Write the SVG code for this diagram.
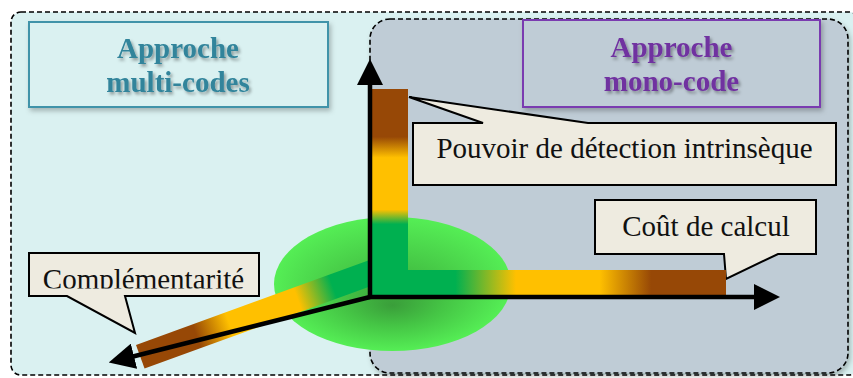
<svg xmlns="http://www.w3.org/2000/svg" width="853" height="378" viewBox="0 0 853 378">
<style>
.title{font-family:"Liberation Serif","Times New Roman",serif;font-weight:bold;font-size:29px;text-anchor:middle}
.lbl{font-family:"Liberation Serif","Times New Roman",serif;font-size:29px;fill:#111;text-anchor:middle}
.callout{fill:#EEEBE0;stroke:#000;stroke-width:2;stroke-linejoin:miter}
.axis{fill:none;stroke:#000;stroke-width:4.5}
.dash{stroke:#000;stroke-width:1.6;stroke-dasharray:5 3}
</style>
<defs>
<filter id="tshadow" x="-10%" y="-20%" width="130%" height="160%">
<feDropShadow dx="2" dy="2.5" stdDeviation="1.8" flood-color="#000" flood-opacity="0.35"/>
</filter>
<filter id="bshadow" x="-5%" y="-10%" width="115%" height="130%">
<feDropShadow dx="2" dy="3" stdDeviation="2.5" flood-color="#000" flood-opacity="0.25"/>
</filter>
<radialGradient id="glow" cx="0.5" cy="0.5" r="0.5" fx="0.5" fy="0.66">
<stop offset="0" stop-color="#3A9E3A"/>
<stop offset="0.45" stop-color="#45C545"/>
<stop offset="1" stop-color="#55EE55"/>
</radialGradient>
<linearGradient id="gV" gradientUnits="userSpaceOnUse" x1="0" y1="297" x2="0" y2="89">
<stop offset="0" stop-color="#00B050"/>
<stop offset="0.35" stop-color="#00B050"/>
<stop offset="0.42" stop-color="#FFC000"/>
<stop offset="0.67" stop-color="#FFC000"/>
<stop offset="0.77" stop-color="#974806"/>
<stop offset="1" stop-color="#974806"/>
</linearGradient>
<linearGradient id="gH" gradientUnits="userSpaceOnUse" x1="370" y1="0" x2="726" y2="0">
<stop offset="0" stop-color="#00B050"/>
<stop offset="0.24" stop-color="#00B050"/>
<stop offset="0.41" stop-color="#FFC000"/>
<stop offset="0.645" stop-color="#FFC000"/>
<stop offset="0.79" stop-color="#974806"/>
<stop offset="1" stop-color="#974806"/>
</linearGradient>
<linearGradient id="gD" gradientUnits="userSpaceOnUse" x1="0" y1="0" x2="250" y2="0">
<stop offset="0" stop-color="#974806"/>
<stop offset="0.24" stop-color="#974806"/>
<stop offset="0.38" stop-color="#FFC000"/>
<stop offset="0.67" stop-color="#FFC000"/>
<stop offset="0.82" stop-color="#00B050"/>
<stop offset="1" stop-color="#00B050"/>
</linearGradient>
<marker id="arrow" markerUnits="userSpaceOnUse" viewBox="0 0 26 26" markerWidth="26" markerHeight="26" refX="1" refY="13" orient="auto">
<path d="M0,0 L26,13 L0,26 Z" fill="#000"/>
</marker>
<clipPath id="clipComp"><rect x="29" y="253" width="230" height="35.5"/></clipPath>
</defs>

<g id="background">
<rect x="11" y="12" width="848" height="363" rx="10" fill="#DAF1F1" class="dash"/>
</g>

<g id="mono-region">
<rect x="370" y="19" width="478" height="354" rx="20" fill="#BFCCD6" class="dash" filter="url(#bshadow)"/>
</g>

<g id="title-multi">
<rect x="29" y="22" width="299" height="85" fill="#DAF1F1" stroke="#3F93A9" stroke-width="2" filter="url(#bshadow)"/>
<g filter="url(#tshadow)" fill="#31849B">
<text class="title" x="178" y="58">Approche</text>
<text class="title" x="178" y="92">multi-codes</text>
</g>
</g>

<g id="title-mono">
<rect x="523" y="20" width="297" height="87" fill="#BFCCD6" stroke="#7A3BB0" stroke-width="2" filter="url(#bshadow)"/>
<g filter="url(#tshadow)" fill="#7030A0">
<text class="title" x="671.5" y="57">Approche</text>
<text class="title" x="671.5" y="91">mono-code</text>
</g>
</g>

<g id="origin-glow">
<ellipse cx="392.5" cy="284" rx="118.5" ry="67" fill="url(#glow)"/>
</g>

<g id="callout-pouvoir">
<path class="callout" d="M413,123 L483,123 L409,97 L588,123 L836,123 L836,185 L413,185 Z"/>
<text class="lbl" x="624.5" y="158">Pouvoir de détection intrinsèque</text>
</g>

<g id="callout-cout">
<path class="callout" d="M595,200 L816,200 L816,254 L778,254 L726,279 L724,254 L595,254 Z"/>
<text class="lbl" x="706" y="236">Coût de calcul</text>
</g>

<g id="callout-complementarite">
<path class="callout" d="M29,253 L259,253 L259,296 L125,296 L135,333 L67,296 L29,296 Z"/>
<text class="lbl" x="143.5" y="289" clip-path="url(#clipComp)">Complémentarité</text>
</g>

<g id="bar-complementarite">
<rect x="0" y="0" width="250" height="25" fill="url(#gD)" transform="translate(136,345) rotate(-20)"/>
</g>
<g id="bar-cout">
<rect x="370" y="270" width="356" height="27" fill="url(#gH)"/>
</g>
<g id="bar-pouvoir">
<rect x="370" y="89" width="38" height="208" fill="url(#gV)"/>
</g>

<g id="connectors">
<line class="axis" x1="370" y1="299" x2="370" y2="84" marker-end="url(#arrow)"/>
<line class="axis" x1="368" y1="297" x2="755" y2="297" marker-end="url(#arrow)"/>
<line class="axis" x1="370" y1="297" x2="133" y2="356.5" marker-end="url(#arrow)"/>
</g>
</svg>
